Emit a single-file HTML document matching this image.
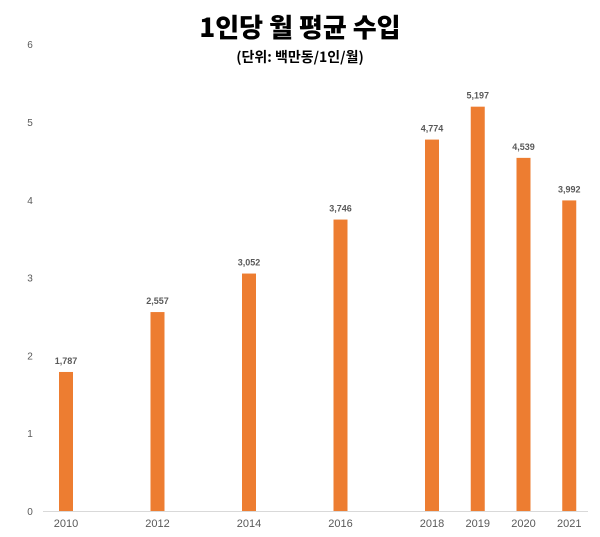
<!DOCTYPE html>
<html><head><meta charset="utf-8"><style>
body{margin:0;background:#fff;font-family:"Liberation Sans","Noto Sans CJK KR",sans-serif}
</style></head><body>
<svg id="chart" width="600" height="532" xmlns="http://www.w3.org/2000/svg">
<text x="300" y="37" text-anchor="middle" font-family="'Noto Sans CJK KR',sans-serif" font-weight="900" font-size="26" fill="#000">1인당 월 평균 수입</text>
<text x="300" y="62" text-anchor="middle" font-family="'Noto Sans CJK KR',sans-serif" font-weight="700" font-size="14" fill="#000">(단위: 백만동/1인/월)</text>
<g id="plot"></g>
</svg>
<script>
const years=[2010,2012,2014,2016,2018,2019,2020,2021];
const values=[1.787,2.557,3.052,3.746,4.774,5.197,4.539,3.992];
const valueLabels=["1,787","2,557","3,052","3,746","4,774","5,197","4,539","3,992"];
const yTicks=[0,1,2,3,4,5,6];
const NS="http://www.w3.org/2000/svg";
const g=document.getElementById('plot');
const x=yr=>66+(yr-2010)*45.75;
const y=v=>511-v*77.8;
function mk(t,a){const e=document.createElementNS(NS,t);for(const k in a)e.setAttribute(k,a[k]);g.appendChild(e);return e;}
yTicks.forEach(t=>{const e=mk('text',{x:30,y:y(t)+4,'text-anchor':'middle','font-size':10,fill:'#595959'});e.textContent=t;

});
const ax=mk('line',{x1:43,x2:588,y1:511.5,y2:511.5,stroke:'#d9d9d9','stroke-width':1});


years.forEach((yr,i)=>{
const b=mk('rect',{x:x(yr)-7,y:y(values[i]),width:14,height:511-y(values[i]),fill:'#ed7d31'});


const l=mk('text',{x:x(yr),y:y(values[i])-8,'text-anchor':'middle','font-size':9,'font-weight':'bold',fill:'#595959'});l.textContent=valueLabels[i];


const t=mk('text',{x:x(yr),y:527,'text-anchor':'middle','font-size':11,fill:'#595959'});t.textContent=yr;


});
</script>
</body></html>
